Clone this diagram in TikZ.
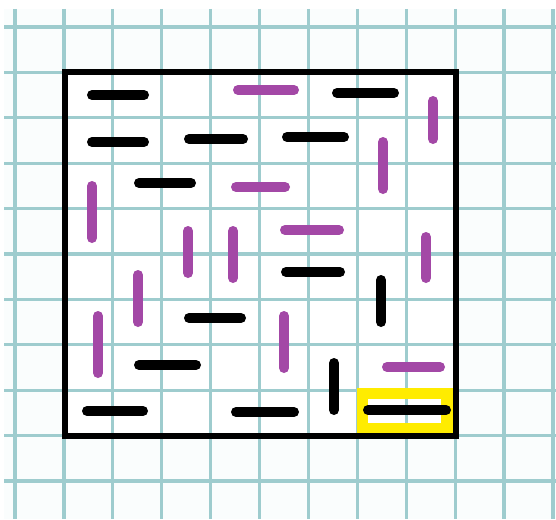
\documentclass[tikz,border=0pt]{standalone}
\definecolor{gridc}{RGB}{158,204,206}
\definecolor{purp}{RGB}{163,72,166}
\definecolor{yel}{RGB}{255,236,0}
\definecolor{paper}{RGB}{250,253,253}
\tikzset{
  gridline/.style={draw=gridc, line width=3.2pt},
  blk/.style={draw=black, line width=10pt, line cap=round},
  pur/.style={draw=purp, line width=10pt, line cap=round},
  frame/.style={draw=black, line width=5.5pt},
  hilite/.style={draw=yel, line width=11.5pt}
}
\begin{document}
\begin{tikzpicture}[x=1pt,y=-1pt]
\useasboundingbox (0,0) rectangle (556,519);
\fill[white] (0,0) rectangle (556,519);
\fill[paper] (4,9) rectangle (556,519);
\begin{scope}
\clip (4,9) rectangle (556,519);
\foreach \k in {0,...,11} \draw[gridline] ({15+48.9*\k},9) -- ({15+48.9*\k},519);
\foreach \k in {0,...,10} \draw[gridline] (4,{27+45.4*\k}) -- (556,{27+45.4*\k});
\end{scope}
% square board
\fill[white] (65,72) rectangle (456,436);
\begin{scope}
\clip (65,72) rectangle (456,436);
\foreach \k in {1,...,8} \draw[gridline] ({15+48.9*\k},72) -- ({15+48.9*\k},436);
\foreach \k in {1,...,8} \draw[gridline] (65,{27+45.4*\k}) -- (456,{27+45.4*\k});
\end{scope}
% yellow highlight
\draw[hilite] (362.5,393.5) rectangle (447,429);
\draw[frame] (65,72) rectangle (456,436);
% black horizontal
\draw[blk] (92,95) -- (144,95);
\draw[blk] (337,93) -- (394,93);
\draw[blk] (92,142) -- (144,142);
\draw[blk] (189,139) -- (243,139);
\draw[blk] (287,137) -- (344,137);
\draw[blk] (139,183) -- (191,183);
\draw[blk] (286,272) -- (340,272);
\draw[blk] (189,318) -- (241,318);
\draw[blk] (139,365) -- (196,365);
\draw[blk] (87,411) -- (143,411);
\draw[blk] (236,412) -- (294,412);
\draw[blk] (368,410) -- (446,410);
% black vertical
\draw[blk] (381,280) -- (381,322);
\draw[blk] (334,363) -- (334,410);
% purple horizontal
\draw[pur] (238,90) -- (294,90);
\draw[pur] (236,187) -- (285,187);
\draw[pur] (285,230) -- (339,230);
\draw[pur] (387,367) -- (440,367);
% purple vertical
\draw[pur] (433,101) -- (433,139);
\draw[pur] (383,142) -- (383,189);
\draw[pur] (92,186) -- (92,238);
\draw[pur] (426,237) -- (426,278);
\draw[pur] (188,231) -- (188,273);
\draw[pur] (233,231) -- (233,278);
\draw[pur] (138,275) -- (138,322);
\draw[pur] (98,316) -- (98,373);
\draw[pur] (284,316) -- (284,368);
\end{tikzpicture}
\end{document}
